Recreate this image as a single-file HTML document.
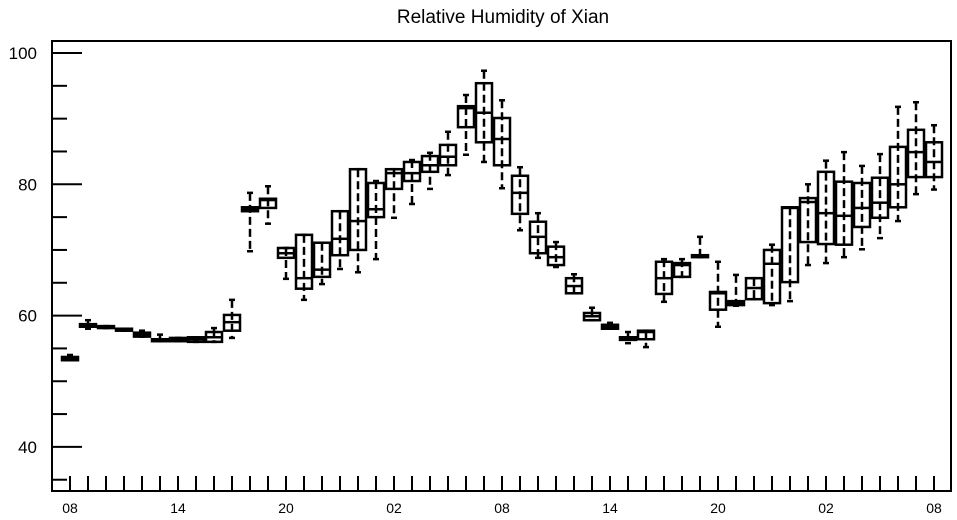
<!DOCTYPE html>
<html><head><meta charset="utf-8"><style>
html,body{margin:0;padding:0;background:#fff;}
svg{display:block;font-family:"Liberation Sans",sans-serif;}
</style></head><body>
<svg id="chart" width="957" height="520" viewBox="0 0 957 520">
<text x="503" y="23" text-anchor="middle" font-size="19">Relative Humidity of Xian</text>
<g id="axes"></g>
<g id="boxes"></g>
<rect x="52" y="41" width="899" height="450" fill="none" stroke="#000" stroke-width="2"/>
</svg>
<script>
const hourLabels = ["08","14","20","02","08","14","20","02","08"];
const yTicks = [40,60,80,100];
const maxV = [54.0,59.3,58.4,58.0,57.7,57.1,56.6,56.7,58.1,62.4,78.7,79.7,70.3,72.3,71.1,75.9,82.3,80.5,82.3,83.7,84.8,88.0,93.6,97.3,92.8,82.6,75.6,71.2,66.3,61.2,58.9,57.5,57.7,68.6,68.6,72.0,68.2,66.2,65.7,70.8,76.5,80.0,83.6,84.9,82.8,84.6,91.8,92.5,89.0];
const q3V = [53.7,58.7,58.4,58.0,57.4,56.4,56.6,56.7,57.5,60.1,76.5,77.8,70.3,72.3,71.1,75.9,82.3,80.2,82.3,83.4,84.3,86.0,91.9,95.4,90.1,81.3,74.3,70.5,65.7,60.4,58.6,56.7,57.7,68.2,68.0,69.2,63.6,62.2,65.7,70.0,76.5,77.9,81.9,80.4,80.2,81.0,85.7,88.3,86.4];
const medV = [53.4,58.6,58.3,57.8,57.1,56.3,56.4,56.4,56.7,59.0,76.2,77.6,69.5,65.7,67.0,71.7,74.4,76.2,81.7,81.7,82.9,84.2,91.6,90.9,86.9,78.7,72.0,68.9,64.5,59.9,58.3,56.6,57.5,65.7,67.7,69.1,63.4,61.9,64.2,67.9,76.4,77.3,75.6,75.2,76.4,77.2,80.0,84.9,83.4];
const q1V = [53.2,58.3,58.1,57.7,56.8,56.1,56.1,56.0,56.0,57.7,75.9,76.4,68.8,64.1,65.9,69.2,70.0,75.0,79.3,80.5,81.9,82.9,88.7,86.4,82.9,75.5,69.5,67.7,63.4,59.3,58.0,56.3,56.4,63.3,65.9,68.9,60.9,61.6,62.5,61.9,65.1,71.2,70.9,70.8,73.5,74.9,76.5,81.1,81.1];
const minV = [53.2,58.0,58.1,57.7,56.8,56.1,56.1,56.0,56.0,56.6,69.8,74.0,65.6,62.4,64.8,67.1,66.6,68.6,74.9,77.0,79.3,81.4,84.5,83.4,79.4,73.0,68.8,67.4,63.4,59.3,58.0,55.8,55.2,62.1,65.9,68.9,58.3,61.5,62.5,61.6,62.2,67.7,68.0,68.9,70.1,71.8,74.4,78.5,79.2];

const NS="http://www.w3.org/2000/svg";
const yScale = v => 53 + (100 - v) * 6.565;
const xScale = i => 70 + 18 * i;
function mk(tag, attrs, parent){const e=document.createElementNS(NS,tag);for(const k in attrs)e.setAttribute(k,attrs[k]);parent.appendChild(e);return e;}
const axes=document.getElementById('axes');
// y ticks
for(let v=35; v<=100; v+=5){
  const major = yTicks.includes(v);
  const t=mk('line',{x1:52,x2:major?82:67,y1:yScale(v),y2:yScale(v),stroke:'#000','stroke-width':2},axes);
  
  
}
yTicks.forEach(v=>{
  const t=mk('text',{x:37,y:yScale(v)+6,'text-anchor':'end','font-size':17},axes);
  t.textContent=v;
  
  
});
// x ticks
for(let i=0;i<maxV.length;i++){
  const t=mk('line',{x1:xScale(i),x2:xScale(i),y1:491,y2:476,stroke:'#000','stroke-width':2},axes);
  
  
}
hourLabels.forEach((l,k)=>{
  const t=mk('text',{x:xScale(k*6),y:513,'text-anchor':'middle','font-size':14},axes);
  t.textContent=l;
  
  
});
// boxes
const bg=document.getElementById('boxes');
for(let i=0;i<maxV.length;i++){
  const g=mk('g',{},bg);
  
  
  const x=xScale(i);
  const w=mk('line',{x1:x,x2:x,y1:yScale(maxV[i]),y2:yScale(minV[i]),stroke:'#000','stroke-width':2.5,'stroke-dasharray':'8,4'},g);
  
  
  [maxV[i],minV[i]].forEach(v=>{
    const c=mk('line',{x1:x-3,x2:x+3,y1:yScale(v),y2:yScale(v),stroke:'#000','stroke-width':2.5},g);
    
    
  });
  const top=yScale(q3V[i]), bot=yScale(q1V[i]);
  const r=mk('rect',{x:x-8,y:top,width:16,height:Math.max(bot-top,1),fill:'none',stroke:'#000','stroke-width':2.5},g);
  
  
  const m=mk('line',{x1:x-8,x2:x+8,y1:yScale(medV[i]),y2:yScale(medV[i]),stroke:'#000','stroke-width':2.5},g);
  
  
}
</script>
</body></html>
